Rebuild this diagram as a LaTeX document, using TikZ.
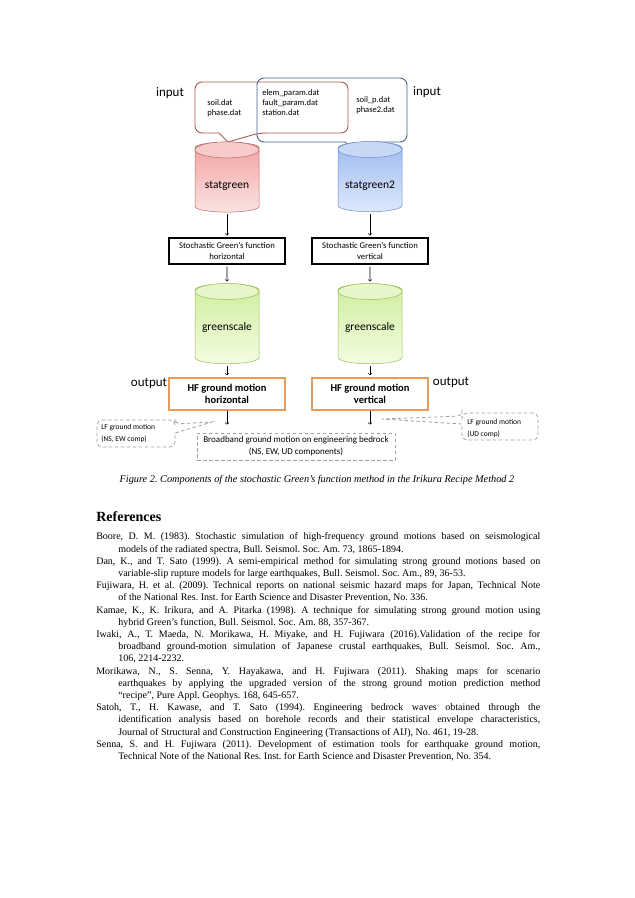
\documentclass[tikz,border=0pt]{standalone}
\usepackage{fontspec}
\setmainfont{Liberation Serif}
\newfontfamily\calibfont{Carlito}
\usetikzlibrary{%
  arrows,%
  shapes.geometric,% wg. cylinder
  positioning,%
  calc%
}
\definecolor{redline}{HTML}{B86A6A}
\definecolor{redtop}{HTML}{F2A0A0}
\definecolor{redbot}{HTML}{FCE3E3}
\definecolor{redcap}{HTML}{F8CACA}
\definecolor{blueline}{HTML}{6F8FC9}
\definecolor{bluetop}{HTML}{9DBAF0}
\definecolor{bluebot}{HTML}{DDE8FC}
\definecolor{bluecap}{HTML}{C7D8F6}
\definecolor{greenline}{HTML}{9BBB5C}
\definecolor{greentop}{HTML}{CDEE9C}
\definecolor{greenbot}{HTML}{F3FCE2}
\definecolor{greencap}{HTML}{E6F6C9}
\definecolor{redcall}{HTML}{A65A5A}
\definecolor{bluecall}{HTML}{4C6285}
\definecolor{hforange}{HTML}{E59C5C}
\definecolor{dashgray}{HTML}{A0A0A0}

\begin{document}
\frenchspacing
\begin{tikzpicture}[
  x=1pt, y=-1pt,
  font=\calibfont\fontsize{8.5}{10}\selectfont,
  >=to,
  line width=0.6pt,
  lbl/.style={font=\calibfont\fontsize{13}{15}\selectfont},
  files/.style={anchor=west, align=left, inner sep=0pt},
  cyl/.style={cylinder, shape border rotate=90, aspect=0.25, draw, line width=0.5pt,
    minimum width=64pt, minimum height=70pt, inner sep=0pt,
    font=\calibfont\fontsize{11.5}{13}\selectfont},
  lowtext/.style={text height=17pt, text depth=0pt},
  sgfbox/.style={draw, line width=1.1pt, minimum width=116pt, minimum height=26pt,
    align=center, inner sep=1pt, font=\calibfont\fontsize{8.7}{11}\selectfont},
  hfbox/.style={draw=hforange, line width=1.4pt, minimum width=116pt, minimum height=32pt,
    align=center, inner sep=1pt, font=\calibfont\bfseries\fontsize{10.5}{12}\selectfont},
  dashbox/.style={draw=dashgray, dash pattern=on 3.5pt off 2.5pt, line width=0.8pt},
  flow/.style={->, shorten <=2pt, shorten >=2pt},
]

\fill[white] (0,0) rectangle (635,898);

% input files
\node[lbl] (inl) at (170,93) {input};
\node[lbl] (inr) at (427,92) {input};
\draw[bluecall, line width=0.9pt, rounded corners=7pt] (257,78) -- (407,78) -- (407,142) -- (371,142)
  [sharp corners] -- (358,152) -- (345,142) [rounded corners=7pt] -- (257,142) -- cycle;
\draw[redcall, line width=0.9pt, rounded corners=7pt] (195,82) -- (348,82) -- (348,133) -- (259,133)
  [sharp corners] -- (228,142) -- (219,133) [rounded corners=7pt] -- (195,133) -- cycle;
\node[files] (fl) at (207,108) {soil.dat\\phase.dat};
\node[files] (fm) at (262,103) {elem\_param.dat\\fault\_param.dat\\station.dat};
\node[files] (fr) at (356,105) {soil\_p.dat\\phase2.dat};

% statgreen
\node[cyl, lowtext, draw=redline, top color=redtop, bottom color=redbot] (sgh) at (227,180) {statgreen};
\draw[redline, fill=redcap, line width=0.5pt] ([yshift=-8pt]sgh.top) ellipse (32 and 8);
\node[cyl, lowtext, draw=blueline, top color=bluetop, bottom color=bluebot] (sgv) at (370,180) {statgreen2};
\draw[blueline, fill=bluecap, line width=0.5pt] ([yshift=-8pt]sgv.top) ellipse (32 and 8);

\node[sgfbox] (sgfh) at (227,251) {Stochastic Green’s function\\horizontal};
\node[sgfbox] (sgfv) at (370,251) {Stochastic Green’s function\\vertical};

% greenscale
\node[cyl, minimum height=80pt, draw=greenline, top color=greentop, bottom color=greenbot] (gsh) at (227,327) {greenscale};
\draw[greenline, fill=greencap, line width=0.5pt] ([yshift=-8pt]gsh.top) ellipse (32 and 8);
\node[cyl, minimum height=80pt, draw=greenline, top color=greentop, bottom color=greenbot] (gsv) at (370,327) {greenscale};
\draw[greenline, fill=greencap, line width=0.5pt] ([yshift=-8pt]gsv.top) ellipse (32 and 8);

% output
\node[hfbox] (hfh) at (227,394) {HF ground motion\\horizontal};
\node[hfbox] (hfv) at (370,394) {HF ground motion\\vertical};
\node[lbl] (outl) at (149,383) {output};
\node[lbl] (outr) at (451,382) {output};

\node[dashbox, minimum width=198pt, minimum height=27pt, align=center,
  font=\calibfont\fontsize{9}{12}\selectfont] (bb) at (296,446.5)
  {Broadband ground motion on engineering bedrock\\(NS, EW, UD components)};

\draw[dashbox, rounded corners=5pt] (97,420) -- (175,420) -- (175,424)
  [sharp corners] -- (212,422) -- (175,433) [rounded corners=5pt] -- (175,447) -- (97,447) -- cycle;
\node[files, font=\calibfont\fontsize{7.5}{12}\selectfont] (lfh) at (101,433) {LF ground motion\\(NS, EW comp)};
\draw[dashbox, rounded corners=5pt] (538,413) -- (462,413) -- (462,416)
  [sharp corners] -- (382,419) -- (462,424) [rounded corners=5pt] -- (462,440) -- (538,440) -- cycle;
\node[files, font=\calibfont\fontsize{7.5}{12}\selectfont] (lfv) at (467,428) {LF ground motion\\(UD comp)};

\draw[flow] (sgh) -- (sgfh);
\draw[flow] (sgv) -- (sgfv);
\draw[flow] (sgfh) -- (gsh);
\draw[flow] (sgfv) -- (gsv);
\draw[flow] (gsh) -- (hfh);
\draw[flow] (gsv) -- (hfv);
\draw[->, shorten >=8pt] (hfh) -- (hfh |- bb.north);
\draw[->, shorten >=8pt] (hfv) -- (hfv |- bb.north);

% caption and references
\node[font=\rmfamily\itshape\fontsize{10.3}{12}\selectfont] (cap) at (317,480)
  {Figure 2. Components of the stochastic Green’s function method in the Irikura Recipe Method 2};
\node[anchor=base west, inner sep=0pt, font=\rmfamily\bfseries\fontsize{14}{16}\selectfont] (refhead) at (96,521) {References};
\node[anchor=north west, inner sep=0pt, text width=444pt, align=justify,
  font=\rmfamily\fontsize{10}{12.2}\selectfont] (refs) at (96,532.5) {%
\parindent=0pt\everypar{\hangindent=22pt\hangafter=1}\hangindent=22pt\hangafter=1
Boore, D. M. (1983). Stochastic simulation of high-frequency ground motions based on seismological\linebreak
models of the radiated spectra, Bull. Seismol. Soc. Am. 73, 1865-1894.\par
Dan, K., and T. Sato (1999). A semi-empirical method for simulating strong ground motions based on\linebreak
variable-slip rupture models for large earthquakes, Bull. Seismol. Soc. Am., 89, 36-53.\par
Fujiwara, H. et al. (2009). Technical reports on national seismic hazard maps for Japan, Technical Note\linebreak
of the National Res. Inst. for Earth Science and Disaster Prevention, No. 336.\par
Kamae, K., K. Irikura, and A. Pitarka (1998). A technique for simulating strong ground motion using\linebreak
hybrid Green’s function, Bull. Seismol. Soc. Am. 88, 357-367.\par
Iwaki, A., T. Maeda, N. Morikawa, H. Miyake, and H. Fujiwara (2016).Validation of the recipe for\linebreak
broadband ground-motion simulation of Japanese crustal earthquakes, Bull. Seismol. Soc. Am.,\linebreak
106, 2214-2232.\par
Morikawa, N., S. Senna, Y. Hayakawa, and H. Fujiwara (2011). Shaking maps for scenario\linebreak
earthquakes by applying the upgraded version of the strong ground motion prediction method\linebreak
“recipe”, Pure Appl. Geophys. 168, 645-657.\par
Satoh, T., H. Kawase, and T. Sato (1994). Engineering bedrock waves obtained through the\linebreak
identification analysis based on borehole records and their statistical envelope characteristics,\linebreak
Journal of Structural and Construction Engineering (Transactions of AIJ), No. 461, 19-28.\par
Senna, S. and H. Fujiwara (2011). Development of estimation tools for earthquake ground motion,\linebreak
Technical Note of the National Res. Inst. for Earth Science and Disaster Prevention, No. 354.\par};

\end{tikzpicture}
\end{document}
